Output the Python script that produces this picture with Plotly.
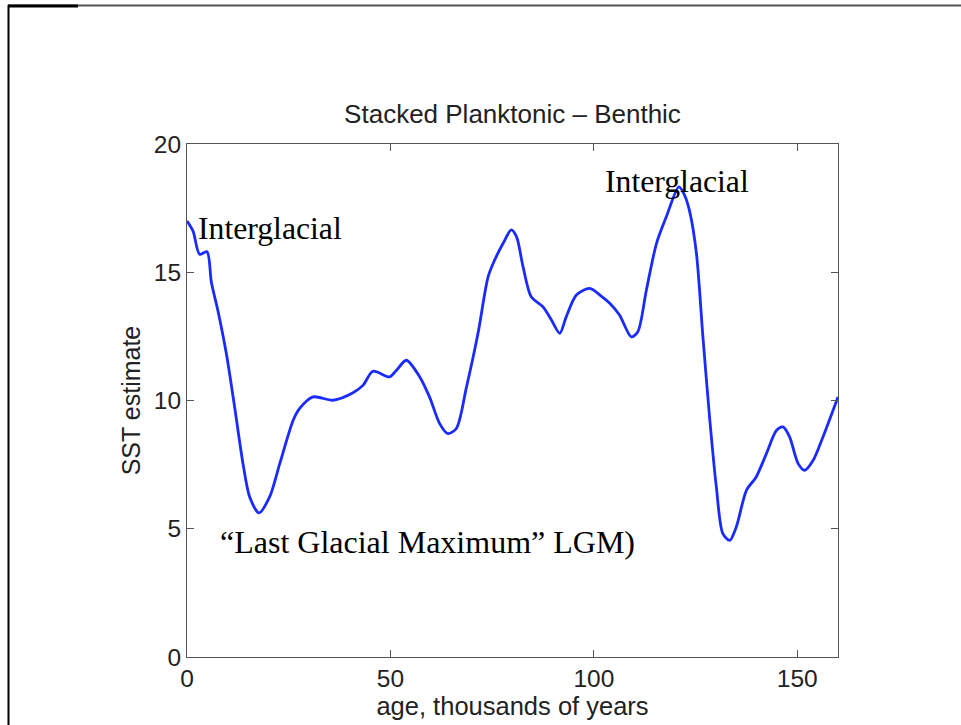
import plotly.graph_objects as go

# ---- data ----
age = [0, 1.5, 3.1, 4.9, 6.0, 7.6, 9.7, 11.7, 13.8, 15.4, 17.7, 20.3, 22.8, 26.1, 27.7,
       31.0, 35.9, 40.8, 43.3, 45.7, 49.8, 51.5, 53.9, 57.2, 59.6, 62.1, 64.1, 66.2,
       68.7, 71.5, 74.0, 75.6, 77.7, 79.7, 81.0, 82.6, 84.6, 87.5, 89.6, 91.6, 93.2,
       95.7, 99.0, 101.8, 103.9, 106.3, 109.2, 110.8, 112.9, 115.4, 117.8, 120.9,
       122.3, 123.5, 125.2, 126.8, 128.5, 130.1, 131.7, 133.4, 135.0, 137.5, 139.9,
       142.4, 144.9, 146.5, 148.1, 150.2, 151.8, 153.9, 156.3, 160.0]
sst = [17.0, 16.6, 15.7, 15.8, 14.6, 13.5, 11.8, 9.75, 7.5, 6.24, 5.62, 6.24, 7.54, 9.23, 9.69,
       10.14, 10.01, 10.3, 10.6, 11.14, 10.92, 11.18, 11.57, 10.92, 10.14, 9.1, 8.71, 8.91,
       10.53, 12.6, 14.82, 15.47, 16.13, 16.65, 16.38, 15.21, 14.04, 13.65, 13.13, 12.62, 13.26,
       14.11, 14.37, 14.07, 13.79, 13.33, 12.48, 12.68, 14.3, 16.13, 17.16, 18.33,
       18.0, 17.4, 15.74, 12.48, 9.23, 6.63, 4.81, 4.55, 5.07, 6.5, 7.02,
       7.93, 8.84, 8.97, 8.58, 7.54, 7.28, 7.67, 8.58, 10.14]

title_text = "Stacked Planktonic \u2013 Benthic"
x_title = "age, thousands of years"
y_title = "SST estimate"
notes = ["Interglacial", "Interglacial", "\u201cLast Glacial Maximum\u201d LGM)"]
note_x = [2.2, 102.2, 7.5]
note_y = [16.72, 18.55, 4.47]
note_size = [31.7, 31.7, 32]

W, H = 961, 725
L, R, T, B = 187, 961 - 838, 144, 725 - 657
pw, ph = W - L - R, H - T - B

def px(x):
    return (x - L) / pw

def py(y):
    return (H - B - y) / ph

fig = go.Figure()
fig.add_trace(go.Scatter(x=age, y=sst, mode="lines",
                         line=dict(color="#1a2bff", width=2.8, shape="spline", smoothing=0.8),
                         hoverinfo="skip", showlegend=False))

for t, xv, yv, fs in zip(notes, note_x, note_y, note_size):
    fig.add_annotation(x=xv, y=yv, xref="x", yref="y", text=t, showarrow=False,
                       xanchor="left", yanchor="middle",
                       font=dict(family="Liberation Serif", size=fs, color="black"))

axis_common = dict(showgrid=False, zeroline=False, showline=True, linecolor="#555555",
                   linewidth=1, mirror="allticks", ticks="inside", ticklen=7,
                   tickcolor="#555555", tickwidth=1,
                   tickfont=dict(family="Liberation Sans", size=24.5, color="#222222"))

fig.update_xaxes(range=[0, 160], tick0=0, dtick=50, **axis_common,
                 title=dict(text=x_title, font=dict(family="Liberation Sans", size=25.5, color="#222222"),
                            standoff=2))
fig.update_yaxes(range=[0, 20], tick0=0, dtick=5, **axis_common,
                 title=dict(text=y_title, font=dict(family="Liberation Sans", size=25, color="#222222"),
                            standoff=6))

# outer frame decoration
fig.add_shape(type="line", xref="paper", yref="paper", x0=px(8), x1=px(961), y0=py(5.5), y1=py(5.5),
              line=dict(color="#555555", width=2))
fig.add_shape(type="line", xref="paper", yref="paper", x0=px(8), x1=px(78), y0=py(6), y1=py(6),
              line=dict(color="black", width=3))
fig.add_shape(type="line", xref="paper", yref="paper", x0=px(8.5), x1=px(8.5), y0=py(5), y1=py(725),
              line=dict(color="black", width=2))

fig.update_layout(
    width=W, height=H,
    margin=dict(l=L, r=R, t=T, b=B, autoexpand=False),
    paper_bgcolor="white", plot_bgcolor="white",
    title=dict(text=title_text, x=(L + pw / 2) / W, xanchor="center",
               y=1 - 114 / H, yanchor="middle", yref="container",
               font=dict(family="Liberation Sans", size=26, color="#222222")),
)

fig.write_html("out.html")
